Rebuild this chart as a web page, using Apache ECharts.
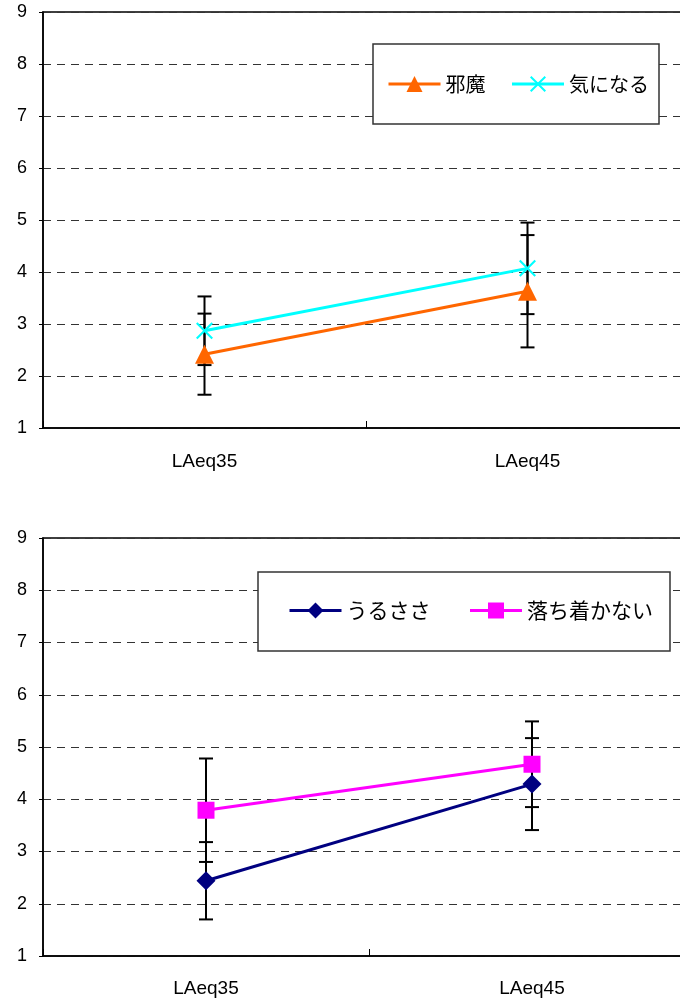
<!DOCTYPE html>
<html>
<head>
<meta charset="utf-8">
<script src="https://cdn.jsdelivr.net/npm/echarts@6/dist/echarts.min.js"></script>
<style>
html,body{margin:0;padding:0;background:#fff;overflow:hidden;width:680px;height:1003px;}
#chart{width:710px;height:1003px;}
</style>
</head>
<body>
<div id="chart"></div>
<script>
// ---- data ----
const categories = ['LAeq35', 'LAeq45'];
const yTicks = [1, 2, 3, 4, 5, 6, 7, 8, 9];

const jamaName = '邪魔';
const jamaValues = [2.42, 3.63];
const jamaErr = [0.78, 1.08];

const kiniName = '気になる';
const kiniValues = [2.87, 4.07];
const kiniErr = [0.66, 0.88];

const urusasaName = 'うるささ';
const urusasaValues = [2.44, 4.29];
const urusasaErr = [0.74, 0.88];

const ochitsukiName = '落ち着かない';
const ochitsukiValues = [3.79, 4.67];
const ochitsukiErr = [0.99, 0.82];

// ---- helpers ----
const LATIN = '"Liberation Sans", Arial, sans-serif';
const CJK = '"Noto Sans CJK JP", "Liberation Sans", sans-serif';
const xMarkPath = 'path://M0,1.4L1.4,0L8,6.6L14.6,0L16,1.4L9.4,8L16,14.6L14.6,16L8,9.4L1.4,16L0,14.6L6.6,8Z';

function errData(vals, errs) {
  return vals.map((v, i) => [i, v - errs[i], v + errs[i]]);
}
function errSeries(name, vals, errs, idx) {
  return {
    type: 'custom', name: name, xAxisIndex: idx, yAxisIndex: idx, z: 1,
    silent: true, legendHoverLink: false,
    data: errData(vals, errs),
    renderItem: function (params, api) {
      const lo = api.coord([api.value(0), api.value(1)]);
      const hi = api.coord([api.value(0), api.value(2)]);
      const x = lo[0], w = 7;
      const st = { stroke: '#000', lineWidth: 2 };
      return {
        type: 'group', children: [
          { type: 'line', shape: { x1: x, y1: lo[1], x2: x, y2: hi[1] }, style: st },
          { type: 'line', shape: { x1: x - w, y1: lo[1], x2: x + w, y2: lo[1] }, style: st },
          { type: 'line', shape: { x1: x - w, y1: hi[1], x2: x + w, y2: hi[1] }, style: st }
        ]
      };
    }
  };
}
function lineSeries(name, vals, color, symbol, size, idx) {
  return {
    type: 'line', name: name, xAxisIndex: idx, yAxisIndex: idx, z: 3,
    data: vals, symbol: symbol, symbolSize: size, showSymbol: true,
    lineStyle: { color: color, width: 3 },
    itemStyle: { color: color, borderColor: color, borderWidth: 0 },
    emphasis: { disabled: true }
  };
}
function xAxis(idx, margin) {
  return {
    type: 'category', gridIndex: idx, data: categories, boundaryGap: true,
    axisLine: { lineStyle: { color: '#000', width: 1.5 } },
    axisTick: { show: true, inside: true, length: 7, alignWithLabel: false, lineStyle: { color: '#000', width: 1 } },
    axisLabel: { color: '#000', fontSize: 19, fontFamily: LATIN, margin: margin },
    splitLine: { show: false }
  };
}
function yAxis(idx) {
  return {
    type: 'value', gridIndex: idx, min: yTicks[0], max: yTicks[yTicks.length - 1], interval: 1,
    axisLine: { show: true, lineStyle: { color: '#000', width: 1.5 } },
    axisTick: { show: true, length: 4, lineStyle: { color: '#000', width: 1 } },
    axisLabel: { color: '#000', fontSize: 18, fontFamily: LATIN, margin: 16 },
    splitLine: { show: true, lineStyle: { color: '#333', width: 1, type: [8, 6] } }
  };
}

const chart = echarts.init(document.getElementById('chart'), null, { renderer: 'canvas' });
chart.setOption({
  animation: false,
  backgroundColor: '#fff',
  grid: [
    { left: 43, top: 12, width: 646, height: 416, show: true, borderColor: '#000', borderWidth: 1.5, backgroundColor: 'transparent' },
    { left: 43, top: 538, width: 652, height: 418, show: true, borderColor: '#000', borderWidth: 1.5, backgroundColor: 'transparent' }
  ],
  xAxis: [xAxis(0, 24), xAxis(1, 23)],
  yAxis: [yAxis(0), yAxis(1)],
  graphic: [
    { type: 'rect', shape: { x: 373, y: 44, width: 286, height: 80 }, style: { fill: '#fff', stroke: '#333', lineWidth: 1.5 }, z: 5 },
    { type: 'rect', shape: { x: 258, y: 572, width: 412, height: 79 }, style: { fill: '#fff', stroke: '#333', lineWidth: 1.5 }, z: 5 }
  ],
  legend: [
    {
      data: [jamaName, kiniName], left: 387, top: 74, padding: 0, itemGap: 25,
      itemWidth: 52, itemHeight: 20, z: 10,
      lineStyle: { width: 3 },
      textStyle: { color: '#000', fontSize: 20, fontFamily: CJK }
    },
    {
      data: [urusasaName, ochitsukiName], left: 288, top: 600, padding: 0, itemGap: 38,
      itemWidth: 52, itemHeight: 20, z: 10,
      lineStyle: { width: 3 },
      textStyle: { color: '#000', fontSize: 21, fontFamily: CJK }
    }
  ],
  series: [
    errSeries('err-jama', jamaValues, jamaErr, 0),
    errSeries('err-kini', kiniValues, kiniErr, 0),
    lineSeries(jamaName, jamaValues, '#FF6600', 'triangle', 19, 0),
    lineSeries(kiniName, kiniValues, '#00FFFF', xMarkPath, 17, 0),
    errSeries('err-urusasa', urusasaValues, urusasaErr, 1),
    errSeries('err-ochitsuki', ochitsukiValues, ochitsukiErr, 1),
    lineSeries(urusasaName, urusasaValues, '#000080', 'diamond', 19, 1),
    lineSeries(ochitsukiName, ochitsukiValues, '#FF00FF', 'rect', 17, 1)
  ]
});
</script>
</body>
</html>
